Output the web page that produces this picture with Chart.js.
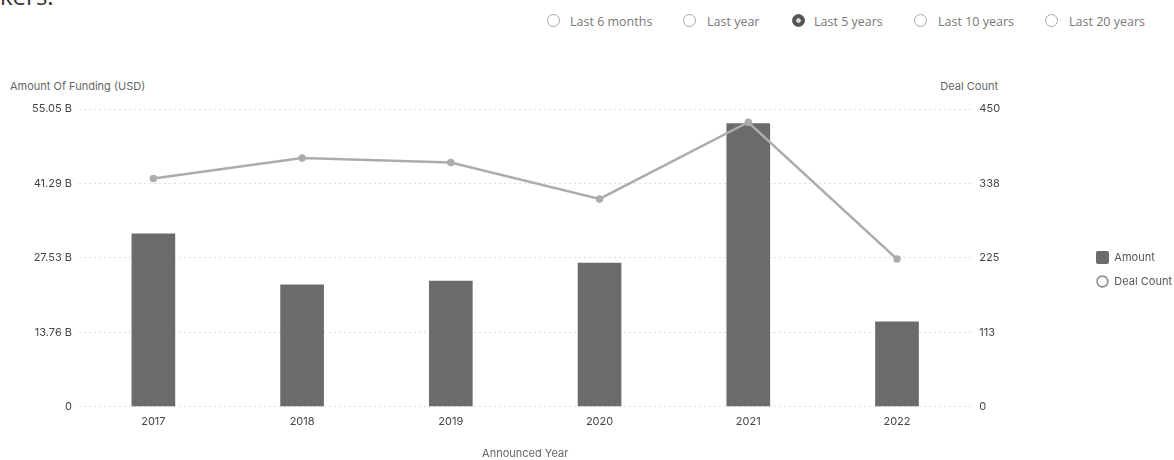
<!DOCTYPE html>
<html>
<head>
<meta charset="utf-8">
<script src="https://cdn.jsdelivr.net/npm/chart.js@4.4.0/dist/chart.umd.min.js"></script>
<style>
  html, body { margin: 0; padding: 0; background: #fff; overflow: hidden; }
  body { width: 1174px; height: 460px; position: relative; font-family: Inter, "Noto Sans", sans-serif; }
  #wrap { position: absolute; left: 0; top: 0; width: 1182px; height: 460px; }
  .heading { position: absolute; left: 0; top: -16px; font: 24px "Open Sans", sans-serif; color: #333; line-height: 24px; }
  .radio { position: absolute; top: 14px; height: 15px; font: 12.5px "Open Sans", sans-serif; color: #777; line-height: 15px; white-space: nowrap; }
  .radio i { position: absolute; top: 0; width: 11px; height: 11px; border: 1.5px solid #a8a8a8; border-radius: 50%; box-sizing: content-box; }
  .radio.on i { border-color: #555; background: radial-gradient(circle, #ddd 0 2px, #555 2.5px); }
  .radio span { position: absolute; top: 0; }
  .axis-title { position: absolute; top: 79px; font-size: 11px; color: #666; white-space: nowrap; }
</style>
</head>
<body>
<div class="heading">kers:</div>

<div class="radio" style="left:547px"><i></i><span style="left:23px">Last 6 months</span></div>
<div class="radio" style="left:683px"><i></i><span style="left:24px">Last year</span></div>
<div class="radio on" style="left:792px"><i></i><span style="left:22px">Last 5 years</span></div>
<div class="radio" style="left:914px"><i></i><span style="left:24px">Last 10 years</span></div>
<div class="radio" style="left:1045px"><i></i><span style="left:24px">Last 20 years</span></div>

<div class="axis-title" style="left:10px">Amount Of Funding (USD)</div>
<div class="axis-title" style="right:176px">Deal Count</div>

<div id="wrap"><canvas id="myChart" width="1182" height="460"></canvas></div>

<script>
// data
const years = ['2017', '2018', '2019', '2020', '2021', '2022'];
const amountB = [31.96, 22.54, 23.22, 26.55, 52.34, 15.70];   // billions USD
const dealCount = [345, 376, 369, 314, 430, 223];

const amountTicks = [0, 13.7625, 27.525, 41.2875, 55.05];
const amountTickLabels = ['0', '13.76 B', '27.53 B', '41.29 B', '55.05 B'];
const dealTicks = [0, 112.5, 225, 337.5, 450];
const dealTickLabels = ['0', '113', '225', '338', '450'];

// small legend icons
function makeIcon(kind) {
  const c = document.createElement('canvas');
  c.width = 13; c.height = 13;
  const g = c.getContext('2d');
  if (kind === 'box') {
    g.fillStyle = '#6b6b6b';
    g.beginPath();
    g.roundRect(0, 0, 13, 13, 2);
    g.fill();
  } else {
    g.strokeStyle = '#8c8c8c';
    g.lineWidth = 1.6;
    g.beginPath();
    g.arc(6.5, 6.5, 5.4, 0, Math.PI * 2);
    g.stroke();
  }
  return c;
}
const boxIcon = makeIcon('box');
const ringIcon = makeIcon('ring');

const ctx = document.getElementById('myChart');

new Chart(ctx, {
  data: {
    labels: years,
    datasets: [{
      type: 'line',
      label: 'Deal Count',
      data: dealCount,
      yAxisID: 'yCount',
      borderColor: '#acacac',
      backgroundColor: '#ffffff',
      borderWidth: 2.5,
      pointRadius: 2.5,
      pointBackgroundColor: '#acacac',
      pointBorderColor: '#acacac',
      tension: 0,
      order: 0
    }, {
      type: 'bar',
      label: 'Amount',
      data: amountB,
      yAxisID: 'yAmount',
      backgroundColor: '#6b6b6b',
      borderColor: '#6b6b6b',
      barThickness: 43,
      order: 1
    }]
  },
  options: {
    responsive: false,
    animation: false,
    layout: { padding: { top: 109, bottom: 0, left: 0, right: 0 } },
    plugins: {
      tooltip: { enabled: false },
      legend: {
        position: 'right',
        fullSize: false,
        reverse: true,
        title: { display: true, text: ' ', font: { size: 1 }, padding: { top: 11, bottom: 11 } },
        labels: {
          usePointStyle: true,
          pointStyleWidth: 13,
          boxWidth: 13,
          boxHeight: 13,
          padding: 13,
          color: '#555',
          font: { family: 'Inter', size: 11 },
          generateLabels: function (chart) {
            const items = Chart.defaults.plugins.legend.labels.generateLabels(chart);
            items.forEach(function (it) {
              it.pointStyle = it.text === 'Deal Count' ? ringIcon : boxIcon;
            });
            return items;
          }
        }
      }
    },
    scales: {
      x: {
        grid: { display: false, drawTicks: false },
        border: { display: false },
        ticks: { color: '#444', padding: 8, font: { family: 'Inter', size: 11 } },
        title: {
          display: true,
          text: 'Announced Year',
          color: '#666',
          font: { family: 'Inter', size: 11 },
          padding: { top: 11, bottom: 0 }
        }
      },
      yAmount: {
        position: 'left',
        min: 0,
        max: 55.05,
        afterBuildTicks: function (scale) {
          scale.ticks = amountTicks.map(function (v) { return { value: v }; });
        },
        afterFit: function (scale) { scale.width = 79; },
        grid: { color: '#dedede', borderDash: [2, 3], drawTicks: false, lineWidth: 1 },
        border: { display: false, dash: [2, 3] },
        ticks: {
          color: '#444',
          padding: 7,
          font: { family: 'Inter', size: 11 },
          callback: function (v, i) { return amountTickLabels[i]; }
        }
      },
      yCount: {
        position: 'right',
        min: 0,
        max: 450,
        afterBuildTicks: function (scale) {
          scale.ticks = dealTicks.map(function (v) { return { value: v }; });
        },
        afterFit: function (scale) { scale.width = 111.5; },
        grid: { display: false, drawTicks: false },
        border: { display: false },
        ticks: {
          color: '#444',
          padding: 8,
          font: { family: 'Inter', size: 11 },
          callback: function (v, i) { return dealTickLabels[i]; }
        }
      }
    }
  }
});
</script>
</body>
</html>
